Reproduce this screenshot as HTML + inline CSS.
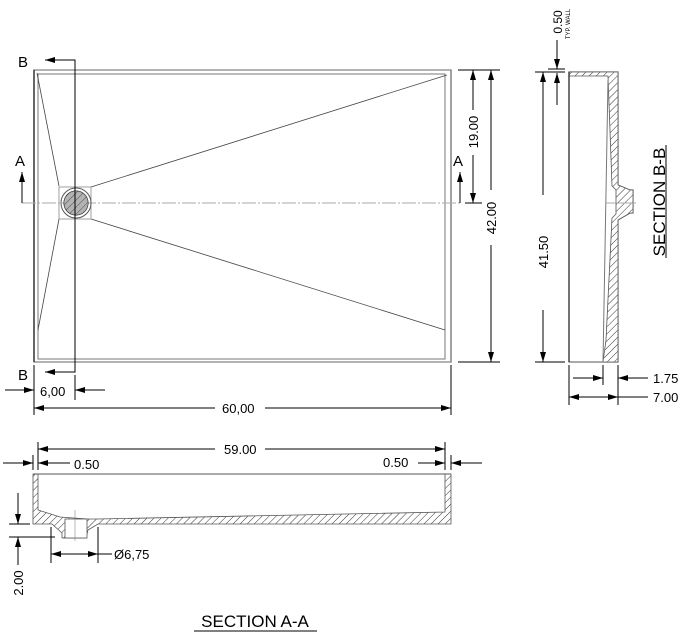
<!DOCTYPE html>
<html><head><meta charset="utf-8"><style>
html,body{margin:0;padding:0;background:#fff}
svg{display:block}
text{font-family:"Liberation Sans",Arial,sans-serif;fill:#000}
</style></head><body>
<svg width="688" height="639" viewBox="0 0 688 639" xmlns="http://www.w3.org/2000/svg">
<defs>
<pattern id="h" width="5" height="5" patternUnits="userSpaceOnUse" patternTransform="rotate(45)">
<rect width="5" height="5" fill="#fff"/><line x1="0" y1="0" x2="0" y2="5" stroke="#000" stroke-width="0.8"/>
</pattern>
<marker id="a" viewBox="0 0 10 6" refX="10" refY="3" markerWidth="11" markerHeight="6" orient="auto" markerUnits="userSpaceOnUse">
<path d="M0,0 L10,3 L0,6 Z" fill="#000"/></marker>
</defs>
<g fill="none" stroke-linecap="butt">
<!-- plan view -->
<rect x="34" y="70" width="417" height="292" stroke="#999" stroke-width="1.5"/>
<rect x="38" y="74" width="407" height="285" stroke="#777" stroke-width="1"/>
<line x1="34" y1="70" x2="34" y2="362" stroke="#000" stroke-width="1"/>
<line x1="451" y1="70" x2="451" y2="362" stroke="#777" stroke-width="1"/>
<g stroke="#444" stroke-width="0.8">
<line x1="37" y1="73" x2="59" y2="186"/>
<line x1="38" y1="330" x2="59" y2="219"/>
<line x1="91" y1="187" x2="447" y2="75"/>
<line x1="91" y1="219" x2="445" y2="330"/>
<rect x="59" y="187" width="32" height="32" stroke="#888"/>
</g>
<line x1="22" y1="203" x2="460" y2="203" stroke="#aaa" stroke-width="1" stroke-dasharray="14,2,2,2"/>
<circle cx="76" cy="203" r="15" stroke="#555" stroke-width="1"/>
<circle cx="76" cy="203" r="12" fill="#666" stroke="#222" stroke-width="1"/>
<circle cx="76" cy="203" r="12" fill="url(#h)" opacity="0.5"/>
<!-- section B line -->
<polyline points="60,60 75,60 75,372 45,372" stroke="#000" stroke-width="1" marker-end="url(#a)"/>
<line x1="60" y1="60" x2="45" y2="60" stroke="#000" marker-end="url(#a)"/>
<!-- A arrows -->
<line x1="22" y1="203" x2="22" y2="172" stroke="#000" marker-end="url(#a)"/>
<line x1="460" y1="203" x2="460" y2="172" stroke="#000" marker-end="url(#a)"/>
<!-- dims plan -->
<g stroke="#000" stroke-width="1">
<line x1="458" y1="70" x2="500" y2="70"/><line x1="458" y1="362" x2="500" y2="362"/>
<line x1="465" y1="203" x2="482" y2="203"/>
<line x1="473" y1="110" x2="473" y2="70" marker-end="url(#a)"/><line x1="473" y1="155" x2="473" y2="203" marker-end="url(#a)"/>
<line x1="491" y1="190" x2="491" y2="70" marker-end="url(#a)"/><line x1="491" y1="245" x2="491" y2="362" marker-end="url(#a)"/>
<line x1="34" y1="365" x2="34" y2="415"/><line x1="75" y1="375" x2="75" y2="400"/><line x1="451" y1="365" x2="451" y2="415"/>
<line x1="5" y1="390" x2="34" y2="390" marker-end="url(#a)"/><line x1="105" y1="390" x2="75" y2="390" marker-end="url(#a)"/>
<line x1="215" y1="408" x2="34" y2="408" marker-end="url(#a)"/><line x1="265" y1="408" x2="451" y2="408" marker-end="url(#a)"/>
</g>
<!-- section B-B -->
<path d="M569,72 L618,72 L618,185 L630,190 L633,190 L633,213 L630,213 L618,220 L618,362 L569,362 Z" stroke="#777" stroke-width="1.2"/>
<path d="M569,72 L618,72 L618,185 L630,190 L633,190 L633,213 L630,213 L618,220 L618,362 L603,362 L606,340 L612,218 L616,214 L616,190 L612,186 L608,76 L569,76 Z" fill="url(#h)" stroke="#555" stroke-width="0.8"/>
<line x1="569" y1="72" x2="569" y2="362" stroke="#000" stroke-width="1"/>
<line x1="603" y1="362" x2="608" y2="80" stroke="#777" stroke-width="1"/>
<line x1="605" y1="203" x2="636" y2="203" stroke="#aaa"/>
<g stroke="#000" stroke-width="1">
<line x1="535" y1="72" x2="565" y2="72"/><line x1="535" y1="362" x2="565" y2="362"/>
<line x1="543" y1="195" x2="543" y2="72" marker-end="url(#a)"/><line x1="543" y1="310" x2="543" y2="362" marker-end="url(#a)"/>
<line x1="548" y1="69" x2="565" y2="69"/>
<line x1="557" y1="40" x2="557" y2="69" marker-end="url(#a)"/><line x1="557" y1="105" x2="557" y2="73" marker-end="url(#a)"/>
<line x1="569" y1="365" x2="569" y2="405"/><line x1="603" y1="365" x2="603" y2="385"/><line x1="618" y1="365" x2="618" y2="405"/>
<line x1="573" y1="378" x2="603" y2="378" marker-end="url(#a)"/><line x1="648" y1="378" x2="618" y2="378" marker-end="url(#a)"/>
<line x1="590" y1="397" x2="569" y2="397" marker-end="url(#a)"/><line x1="590" y1="397" x2="618" y2="397" marker-end="url(#a)"/>
<line x1="618" y1="397" x2="648" y2="397"/>
<line x1="666" y1="145" x2="666" y2="258"/>
</g>
<!-- section A-A -->
<path d="M33,474 L33,524 L52,524 L62,533 L62,538 L86,538 L88,530 L98,524 L451,524 L451,474 L445,474 L445,512 L98,519 L88,519 L60,517 L38,510 L38,474 Z" fill="url(#h)" stroke="#555" stroke-width="0.8"/>
<rect x="65" y="519" width="22" height="19" fill="#fff" stroke="#555" stroke-width="0.8"/>
<line x1="33" y1="474" x2="451" y2="474" stroke="#555" stroke-width="1"/>
<line x1="75" y1="510" x2="75" y2="541" stroke="#888" stroke-width="0.6"/>
<g stroke="#000" stroke-width="1">
<line x1="38" y1="442" x2="38" y2="470"/><line x1="33" y1="455" x2="33" y2="470"/>
<line x1="445" y1="442" x2="445" y2="470"/><line x1="451" y1="455" x2="451" y2="470"/>
<line x1="215" y1="449" x2="38" y2="449" marker-end="url(#a)"/><line x1="265" y1="449" x2="445" y2="449" marker-end="url(#a)"/>
<line x1="3" y1="463" x2="33" y2="463" marker-end="url(#a)"/><line x1="70" y1="463" x2="38" y2="463" marker-end="url(#a)"/>
<line x1="418" y1="463" x2="445" y2="463" marker-end="url(#a)"/><line x1="482" y1="463" x2="451" y2="463" marker-end="url(#a)"/>
<line x1="9" y1="524" x2="30" y2="524"/><line x1="9" y1="537" x2="55" y2="537"/>
<line x1="18" y1="493" x2="18" y2="524" marker-end="url(#a)"/><line x1="18" y1="565" x2="18" y2="537" marker-end="url(#a)"/>
<line x1="51" y1="527" x2="51" y2="563"/><line x1="98" y1="527" x2="98" y2="563"/>
<line x1="75" y1="554" x2="51" y2="554" marker-end="url(#a)"/><line x1="75" y1="554" x2="98" y2="554" marker-end="url(#a)"/>
<line x1="98" y1="554" x2="112" y2="554"/>
<line x1="194" y1="631" x2="317" y2="631"/>
</g>
</g>
<g font-size="14">
<text x="18" y="67" font-size="15">B</text><text x="18" y="380" font-size="15">B</text>
<text x="15" y="166" font-size="15">A</text><text x="453" y="166" font-size="15">A</text>
<text x="40" y="396" font-size="13">6,00</text>
<text x="222" y="413" font-size="13">60,00</text>
<text x="224" y="454" font-size="13">59.00</text>
<text x="74" y="469" font-size="13">0.50</text>
<text x="383" y="467" font-size="13">0.50</text>
<text x="114" y="559" font-size="13">Ø6,75</text>
<text x="653" y="383" font-size="13">1.75</text>
<text x="653" y="402" font-size="13">7.00</text>
<text transform="translate(478,132) rotate(-90)" text-anchor="middle" font-size="13">19.00</text>
<text transform="translate(496,218) rotate(-90)" text-anchor="middle" font-size="13">42.00</text>
<text transform="translate(548,252) rotate(-90)" text-anchor="middle" font-size="13">41.50</text>
<text transform="translate(23,583) rotate(-90)" text-anchor="middle" font-size="13">2.00</text>
<text transform="translate(562,22) rotate(-90)" text-anchor="middle" font-size="12">0.50</text>
<text transform="translate(570,24) rotate(-90)" text-anchor="middle" font-size="6">TYP. WALL</text>
<text transform="translate(665,202) rotate(-90)" text-anchor="middle" font-size="17">SECTION B-B</text>
<text x="255" y="627" text-anchor="middle" font-size="17">SECTION A-A</text>
</g>
</svg>
</body></html>
